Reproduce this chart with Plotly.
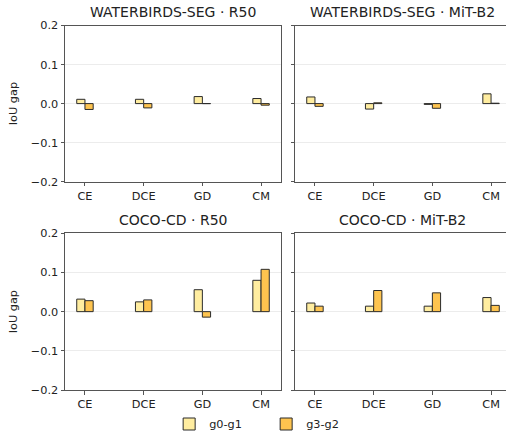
import plotly.graph_objects as go

categories = ["CE", "DCE", "GD", "CM"]
panel_titles = ["WATERBIRDS-SEG · R50", "WATERBIRDS-SEG · MiT-B2",
                "COCO-CD · R50", "COCO-CD · MiT-B2"]
series_names = ["g0-g1", "g3-g2"]

wb_r50_g0g1 = [0.011, 0.011, 0.018, 0.013]
wb_r50_g3g2 = [-0.015, -0.011, 0.000, -0.004]
wb_mit_g0g1 = [0.017, -0.014, -0.002, 0.025]
wb_mit_g3g2 = [-0.007, 0.002, -0.012, 0.001]
coco_r50_g0g1 = [0.032, 0.025, 0.056, 0.080]
coco_r50_g3g2 = [0.028, 0.030, -0.014, 0.108]
coco_mit_g0g1 = [0.022, 0.014, 0.014, 0.036]
coco_mit_g3g2 = [0.014, 0.054, 0.048, 0.016]

y_ticks = [-0.2, -0.1, 0.0, 0.1, 0.2]
y_ticktext = ["\u22120.2", "\u22120.1", "0.0", "0.1", "0.2"]

panels = [
    (wb_r50_g0g1, wb_r50_g3g2),
    (wb_mit_g0g1, wb_mit_g3g2),
    (coco_r50_g0g1, coco_r50_g3g2),
    (coco_mit_g0g1, coco_mit_g3g2),
]

W, H = 506, 434
colors = ["#ffeda0", "#fec44f"]
edge = "#2b2b2b"
spine = "#555555"
font = "DejaVu Sans"
tfs = 11.3

# pixel layout
col_px = [(65, 280.5), (295, 506)]
row_px = [(25.5, 181.7), (233.3, 390.0)]
ppu = 58.7
x_left = -0.34

fig = go.Figure()
bw = 0.14
xidx = list(range(len(categories)))

for p, (a, b) in enumerate(panels):
    r, c = divmod(p, 2)
    ax = "" if p == 0 else str(p + 1)
    for s, (vals, name) in enumerate(zip((a, b), series_names)):
        fig.add_trace(go.Bar(
            x=xidx, y=vals, name=name,
            width=bw, offset=-bw if s == 0 else 0,
            marker=dict(color=colors[s], line=dict(color=edge, width=1)),
            xaxis="x" + ax, yaxis="y" + ax,
            showlegend=(p == 0), legendgroup=name,
        ))
    x0, x1 = col_px[c]
    y0, y1 = row_px[r]
    xr = [x_left, x_left + (x1 - x0) / ppu]
    fig.layout["xaxis" + ax] = dict(
        domain=[x0 / W, x1 / W], range=xr, anchor="y" + ax, automargin=False,
        tickvals=xidx, ticktext=categories, ticks="outside", ticklen=3.5,
        tickcolor=spine, showline=True, linecolor=spine, linewidth=1,
        mirror=True, showgrid=False, zeroline=False,
        tickfont=dict(family=font, size=tfs, color="#222"),
    )
    fig.layout["yaxis" + ax] = dict(
        domain=[1 - y1 / H, 1 - y0 / H], range=[-0.2, 0.2], anchor="x" + ax,
        automargin=False,
        tickvals=y_ticks, ticktext=y_ticktext, ticks="outside", ticklen=3.5,
        tickcolor=spine, showline=True, linecolor=spine, linewidth=1,
        mirror=(c == 0), showgrid=True, gridcolor="#ececec", gridwidth=1,
        zeroline=False, showticklabels=(c == 0),
        tickfont=dict(family=font, size=tfs, color="#222"),
        title=dict(text="IoU gap" if c == 0 else "",
                   font=dict(family=font, size=tfs, color="#222"), standoff=10),
    )
    fig.add_annotation(
        text=panel_titles[p], xref="paper", yref="paper",
        x=((x0 + (x0 + 215.5)) / 2) / W, y=1 - (y0 - 13) / H,
        xanchor="center", yanchor="middle", showarrow=False,
        font=dict(family=font, size=14, color="#222"),
    )

fig.update_layout(
    width=W, height=H, margin=dict(l=0, r=0, t=0, b=0, autoexpand=False),
    plot_bgcolor="white", paper_bgcolor="white",
    barmode="overlay",
    legend=dict(orientation="h", x=0.526, xanchor="center", y=1 - 424 / H,
                yanchor="middle", font=dict(family=font, size=tfs, color="#222"),
                itemwidth=30, entrywidth=52, entrywidthmode="pixels",
                bgcolor="rgba(0,0,0,0)"),
    font=dict(family=font),
)

fig.write_html("out.html", config={"displayModeBar": False},
               post_script="document.body.style.margin='0';")
